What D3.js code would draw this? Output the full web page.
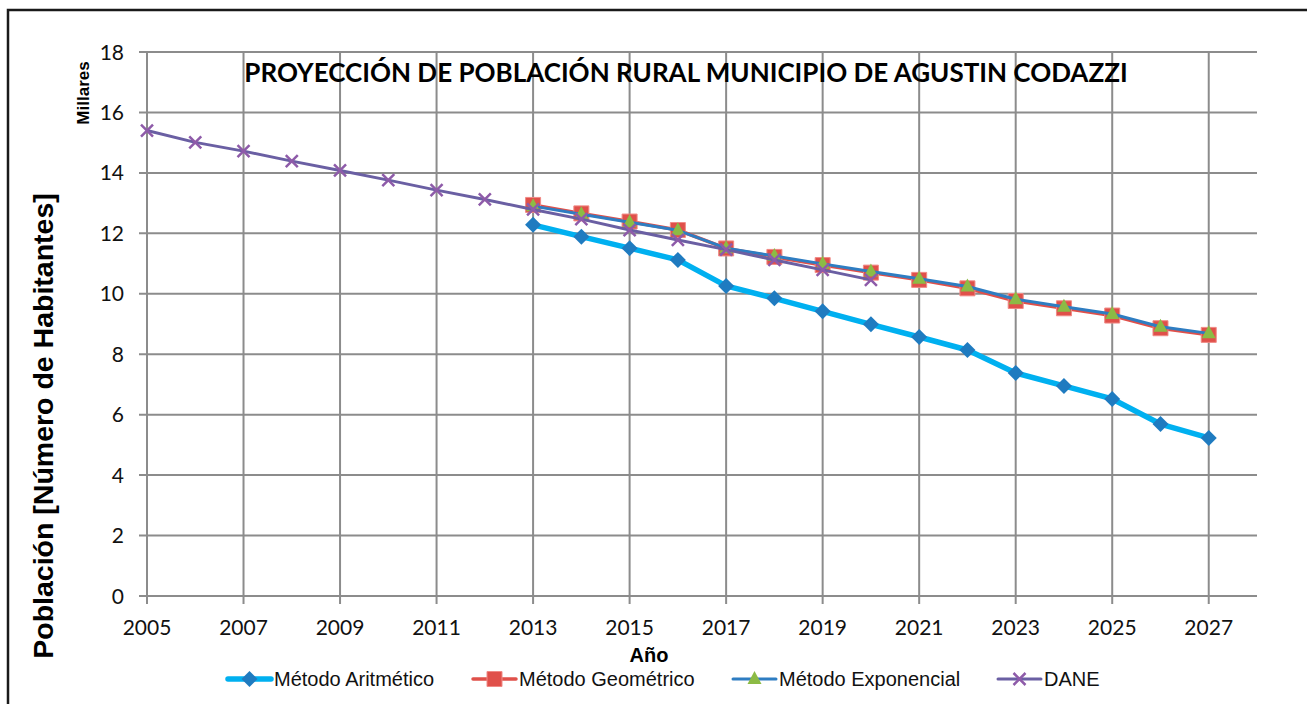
<!DOCTYPE html>
<html>
<head>
<meta charset="utf-8">
<script src="https://cdn.jsdelivr.net/npm/d3@7"></script>
<style>
  body { margin: 0; background: #fff; }
  svg { display: block; }
</style>
</head>
<body>
<div class="wrapper"></div>
<script>
// data (miles de habitantes)
var daneYears = [2005, 2006, 2007, 2008, 2009, 2010, 2011, 2012, 2013, 2014, 2015, 2016, 2017, 2018, 2019, 2020];
var daneValues = [15.40, 15.01, 14.72, 14.39, 14.08, 13.76, 13.43, 13.12, 12.79, 12.47, 12.11, 11.78, 11.46, 11.12, 10.79, 10.46];

var projYears = [2013, 2014, 2015, 2016, 2017, 2018, 2019, 2020, 2021, 2022, 2023, 2024, 2025, 2026, 2027];
var aritmetico = [12.28, 11.89, 11.51, 11.12, 10.26, 9.85, 9.42, 8.99, 8.57, 8.14, 7.38, 6.95, 6.52, 5.69, 5.23];
var geometrico = [12.94, 12.66, 12.39, 12.11, 11.50, 11.22, 10.95, 10.70, 10.46, 10.18, 9.76, 9.52, 9.28, 8.86, 8.64];
var exponencial = [12.90, 12.63, 12.37, 12.10, 11.51, 11.25, 10.99, 10.74, 10.50, 10.24, 9.82, 9.57, 9.33, 8.91, 8.69];

var xTicks = [2005, 2007, 2009, 2011, 2013, 2015, 2017, 2019, 2021, 2023, 2025, 2027];
var yTicks = [0, 2, 4, 6, 8, 10, 12, 14, 16, 18];

var series = [
  {name: "Método Aritmético", years: projYears, values: aritmetico, line: "#00b0f0", lw: 5.5, marker: "diamond", mcolor: "#1f7bc0"},
  {name: "Método Geométrico", years: projYears, values: geometrico, line: "#e0504a", lw: 3.5, marker: "square", mcolor: "#e0504a"},
  {name: "Método Exponencial", years: projYears, values: exponencial, line: "#2e7dc2", lw: 3, marker: "triangle", mcolor: "#8cbb45"},
  {name: "DANE", years: daneYears, values: daneValues, line: "#6a5fa3", lw: 3, marker: "cross", mcolor: "#8e5ba9"}
];

var W = 1307, H = 704;
var plot = {left: 147, right: 1257, top: 52, bottom: 596};

var svg = d3.select(".wrapper")
  .append("svg")
    .attr("width", W)
    .attr("height", H);

svg.append("rect").attr("width", W).attr("height", H).attr("fill", "#fff");

// outer frame
svg.append("rect")
  .attr("x", 8).attr("y", 10)
  .attr("width", W + 20).attr("height", H + 20)
  .attr("fill", "none")
  .attr("stroke", "#1a1a1a")
  .attr("stroke-width", 2.5);

var x = d3.scaleLinear().domain([2005, 2028]).range([plot.left, plot.right]);
var y = d3.scaleLinear().domain([0, 18]).range([plot.bottom, plot.top]);

var gridColor = "#8c8c8c";

// horizontal grid
svg.append("g")
  .selectAll("line")
  .data(yTicks)
  .enter().append("line")
    .attr("x1", plot.left - 8)
    .attr("x2", plot.right)
    .attr("y1", function(d) { return y(d); })
    .attr("y2", function(d) { return y(d); })
    .attr("stroke", gridColor)
    .attr("stroke-width", 2);

// vertical grid
svg.append("g")
  .selectAll("line")
  .data(xTicks)
  .enter().append("line")
    .attr("x1", function(d) { return x(d); })
    .attr("x2", function(d) { return x(d); })
    .attr("y1", plot.top)
    .attr("y2", plot.bottom + 8)
    .attr("stroke", gridColor)
    .attr("stroke-width", 2);

// y tick labels
svg.append("g")
  .selectAll("text")
  .data(yTicks)
  .enter().append("text")
    .attr("x", 124)
    .attr("y", function(d) { return y(d); })
    .attr("dy", "0.36em")
    .attr("text-anchor", "end")
    .style("font-family", "Lato, 'Open Sans', sans-serif")
    .style("font-size", "21px")
    .attr("fill", "#111")
    .text(function(d) { return d; });

// x tick labels
svg.append("g")
  .selectAll("text")
  .data(xTicks)
  .enter().append("text")
    .attr("x", function(d) { return x(d); })
    .attr("y", 635)
    .attr("text-anchor", "middle")
    .style("font-family", "Lato, 'Open Sans', sans-serif")
    .style("font-size", "21px")
    .attr("fill", "#111")
    .text(function(d) { return d; });

// title
var title = svg.append("text")
  .attr("x", 686)
  .attr("y", 82)
  .attr("text-anchor", "middle")
  .style("font-family", "Lato, 'Open Sans', sans-serif")
  .style("font-weight", "bold")
  .style("font-size", "24px")
  .attr("fill", "#000")
  .text("PROYECCIÓN DE POBLACIÓN RURAL MUNICIPIO DE AGUSTIN CODAZZI");
var tl = title.node().getComputedTextLength();
title.style("font-size", (24 * 884 / tl) + "px");

// Millares
svg.append("text")
  .attr("transform", "translate(89,93) rotate(-90)")
  .attr("text-anchor", "middle")
  .style("font-family", "'Liberation Sans', Arial, sans-serif")
  .style("font-weight", "bold")
  .style("font-size", "17px")
  .text("Millares");

// y axis title
svg.append("text")
  .attr("transform", "translate(53,426) rotate(-90)")
  .attr("text-anchor", "middle")
  .style("font-family", "'Liberation Sans', Arial, sans-serif")
  .style("font-weight", "bold")
  .style("font-size", "28.5px")
  .text("Población [Número de Habitantes]");

// x axis title
svg.append("text")
  .attr("x", 649)
  .attr("y", 662)
  .attr("text-anchor", "middle")
  .style("font-family", "'Liberation Sans', Arial, sans-serif")
  .style("font-weight", "bold")
  .style("font-size", "20px")
  .text("Año");

function markerPath(type) {
  if (type == "diamond") return "M0,-8L8,0L0,8L-8,0Z";
  if (type == "square") return "M-7.5,-7.5H7.5V7.5H-7.5Z";
  if (type == "triangle") return "M0,-8L7,5L-7,5Z";
  return "M-6,-6L6,6M6,-6L-6,6";
}

function drawMarker(g, s) {
  var p = g.append("path").attr("d", markerPath(s.marker));
  if (s.marker == "cross") {
    p.attr("fill", "none").attr("stroke", s.mcolor).attr("stroke-width", 2.5);
  } else if (s.marker == "square") {
    p.attr("fill", s.mcolor).attr("stroke", "#f08a86").attr("stroke-width", 1);
  } else {
    p.attr("fill", s.mcolor);
  }
}

var line = d3.line()
  .x(function(d) { return x(d[0]); })
  .y(function(d) { return y(d[1]); });

series.forEach(function(s) {
  var pts = s.years.map(function(yr, i) { return [yr, s.values[i]]; });
  var g = svg.append("g");
  g.append("path")
    .datum(pts)
    .attr("d", line)
    .attr("fill", "none")
    .attr("stroke", s.line)
    .attr("stroke-width", s.lw)
    .attr("stroke-linejoin", "round");
  g.selectAll("g.pt")
    .data(pts)
    .enter().append("g")
      .attr("class", "pt")
      .attr("transform", function(d) { return "translate(" + x(d[0]) + "," + y(d[1]) + ")"; })
      .each(function() { drawMarker(d3.select(this), s); });
});

// legend
var legendX = [228, 473, 733, 998];
var legend = svg.append("g")
  .selectAll("g")
  .data(series)
  .enter().append("g")
    .attr("transform", function(d, i) { return "translate(" + legendX[i] + ",679)"; });

legend.append("line")
  .attr("x1", 0).attr("x2", 43)
  .attr("stroke", function(d) { return d.line; })
  .attr("stroke-width", function(d) { return d.lw; })
  .attr("stroke-linecap", "round");

legend.each(function(d) {
  var m = d3.select(this).append("g").attr("transform", "translate(21.5,0)");
  drawMarker(m, d);
});

legend.append("text")
  .attr("x", 46)
  .attr("dy", "0.35em")
  .style("font-family", "'Liberation Sans', Arial, sans-serif")
  .style("font-size", "20px")
  .attr("fill", "#111")
  .text(function(d) { return d.name; });
</script>
</body>
</html>
